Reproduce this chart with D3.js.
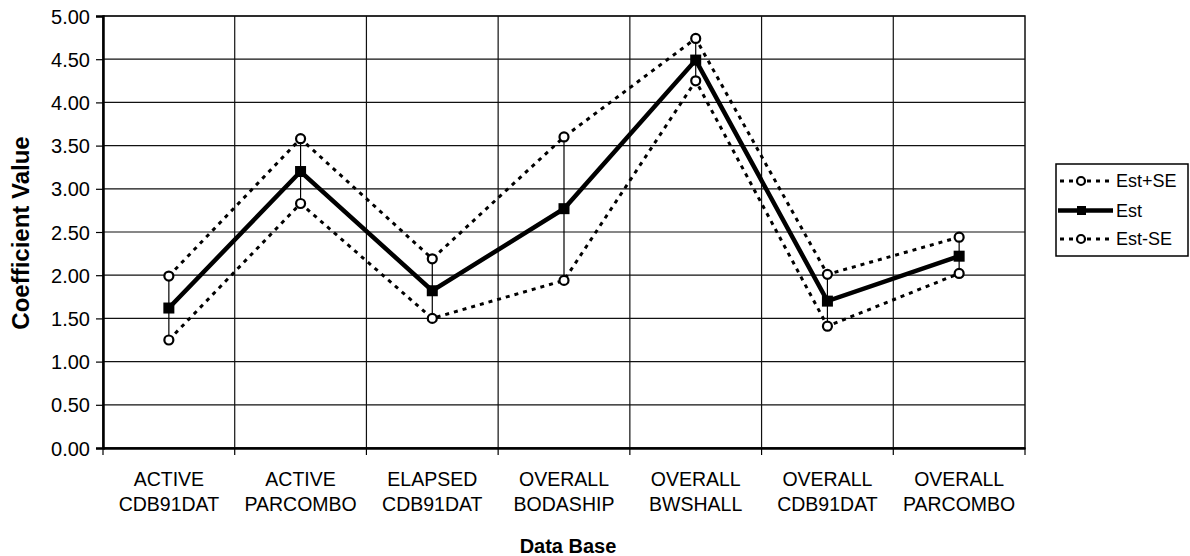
<!DOCTYPE html>
<html><head><meta charset="utf-8">
<script src="https://cdn.jsdelivr.net/npm/d3@7"></script>
<style>body{margin:0;background:#fff}svg{display:block}text{font-family:"Liberation Sans",Arial,sans-serif;fill:#000}</style>
</head><body><svg id="c" width="1190" height="556"></svg>
<script>
const categories = [["ACTIVE","CDB91DAT"],["ACTIVE","PARCOMBO"],["ELAPSED","CDB91DAT"],["OVERALL","BODASHIP"],["OVERALL","BWSHALL"],["OVERALL","CDB91DAT"],["OVERALL","PARCOMBO"]];
const estPlus  = [1.99, 3.58, 2.19, 3.60, 4.74, 2.01, 2.44];
const est      = [1.62, 3.20, 1.82, 2.77, 4.49, 1.70, 2.22];
const estMinus = [1.25, 2.83, 1.50, 1.94, 4.25, 1.41, 2.02];
const yTicks = [0,0.5,1,1.5,2,2.5,3,3.5,4,4.5,5];
const seriesNames = ["Est+SE","Est","Est-SE"];

const svg = d3.select("#c");
const L=103, R=1025, T=16, B=448;
const x = d3.scaleBand().domain(d3.range(categories.length)).range([L,R]).padding(0);
const y = d3.scaleLinear().domain([0,5]).range([B,T]);
const cx = i => x(i)+x.bandwidth()/2;

// gridlines
svg.append("g").selectAll("line").data(yTicks).join("line")
  .attr("x1",L).attr("x2",R).attr("y1",d=>y(d)).attr("y2",d=>y(d))
  .attr("stroke","#111").attr("stroke-width",1.2);
svg.append("g").selectAll("line").data(d3.range(1,categories.length)).join("line")
  .attr("x1",i=>x(i)).attr("x2",i=>x(i)).attr("y1",T).attr("y2",B)
  .attr("stroke","#111").attr("stroke-width",1.2);
// border
svg.append("rect").attr("x",L).attr("y",T).attr("width",R-L).attr("height",B-T)
  .attr("fill","none").attr("stroke","#111").attr("stroke-width",1.5);

// y axis
const ya = svg.append("g").attr("transform",`translate(${L},0)`)
  .call(d3.axisLeft(y).tickValues(yTicks).tickFormat(d3.format(".2f")).tickSize(7).tickPadding(6));
ya.select(".domain").attr("stroke","#000").attr("stroke-width",2.5);
ya.selectAll(".tick line").attr("stroke","#000").attr("stroke-width",1.2);
ya.selectAll("text").attr("font-size",20).attr("dy","0.35em");

// x axis
const xa = svg.append("g").attr("transform",`translate(0,${B})`)
  .call(d3.axisBottom(x).tickSize(0).tickFormat(""));
xa.select(".domain").attr("stroke","#000").attr("stroke-width",2.5);
svg.append("g").selectAll("line").data(d3.range(0,categories.length+1)).join("line")
  .attr("x1",i=>i<categories.length?x(i):R).attr("x2",i=>i<categories.length?x(i):R)
  .attr("y1",B).attr("y2",B+7).attr("stroke","#000").attr("stroke-width",1.2);
const cl = svg.append("g").selectAll("text").data(categories).join("text")
  .attr("x",(d,i)=>cx(i)).attr("y",486).attr("text-anchor","middle").attr("font-size",19.5);
cl.append("tspan").attr("x",(d,i)=>cx(i)).attr("y",486).text(d=>d[0]);
cl.append("tspan").attr("x",(d,i)=>cx(i)).attr("y",510.5).text(d=>d[1]);

// axis titles
svg.append("text").attr("transform","translate(29,233) rotate(-90)").attr("text-anchor","middle")
  .attr("font-size",24).attr("font-weight","bold").text("Coefficient Value");
svg.append("text").attr("x",568).attr("y",553).attr("text-anchor","middle")
  .attr("font-size",20).attr("font-weight","bold").text("Data Base");

// error bars (high-low)
svg.append("g").selectAll("line").data(d3.range(categories.length)).join("line")
  .attr("x1",cx).attr("x2",cx).attr("y1",i=>y(estMinus[i])).attr("y2",i=>y(estPlus[i]))
  .attr("stroke","#000").attr("stroke-width",1.2);

const line = d3.line().x((d,i)=>cx(i)).y(d=>y(d));
[estPlus, estMinus].forEach(s=>{
  svg.append("path").datum(s).attr("d",line).attr("fill","none").attr("stroke","#000")
    .attr("stroke-width",3).attr("stroke-dasharray","4,5");
});
svg.append("path").datum(est).attr("d",line).attr("fill","none").attr("stroke","#000").attr("stroke-width",4.5);
[estPlus, estMinus].forEach(s=>{
  svg.append("g").selectAll("circle").data(s).join("circle")
    .attr("cx",(d,i)=>cx(i)).attr("cy",d=>y(d)).attr("r",4.5)
    .attr("fill","#fff").attr("stroke","#000").attr("stroke-width",2.2);
});
svg.append("g").selectAll("rect").data(est).join("rect")
  .attr("x",(d,i)=>cx(i)-5.5).attr("y",d=>y(d)-5.5).attr("width",11).attr("height",11).attr("fill","#000");

// legend
const lg = svg.append("g");
lg.append("rect").attr("x",1056).attr("y",164).attr("width",132).attr("height",92)
  .attr("fill","#fff").attr("stroke","#000").attr("stroke-width",1.5);
const ly = [181, 210.5, 239];
seriesNames.forEach((n,k)=>{
  if(k===1){
    lg.append("line").attr("x1",1058).attr("x2",1113).attr("y1",ly[k]).attr("y2",ly[k]).attr("stroke","#000").attr("stroke-width",4.5);
    lg.append("rect").attr("x",1077).attr("y",ly[k]-4.5).attr("width",9).attr("height",9).attr("fill","#000");
  } else {
    lg.append("line").attr("x1",1060).attr("x2",1113).attr("y1",ly[k]).attr("y2",ly[k]).attr("stroke","#000").attr("stroke-width",3).attr("stroke-dasharray","4,5");
    lg.append("circle").attr("cx",1081).attr("cy",ly[k]).attr("r",4).attr("fill","#fff").attr("stroke","#000").attr("stroke-width",2.2);
  }
  lg.append("text").attr("x",1116).attr("y",ly[k]+6).attr("font-size",18).text(n);
});
</script></body></html>
